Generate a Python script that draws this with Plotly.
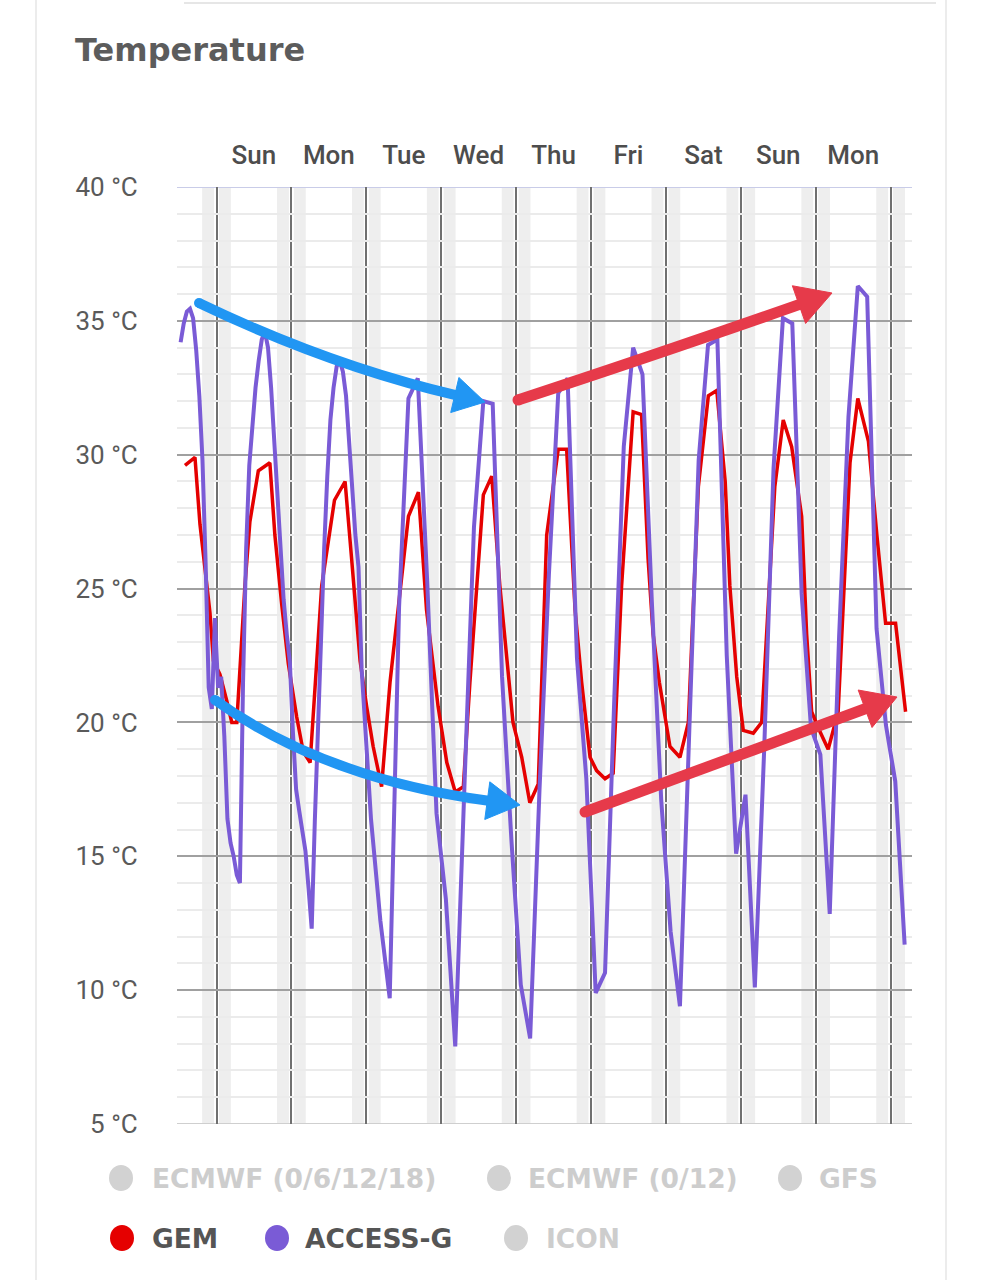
import math
import pandas as pd
import plotly.graph_objects as go

# ---------------- data ----------------
week_start = pd.Timestamp("2019-12-15 00:00")   # a Sunday (local time)
day_labels = ["Sun", "Mon", "Tue", "Wed", "Thu", "Fri", "Sat", "Sun", "Mon"]
n_day_lines = 10                                  # midnights Sun 00:00 ... Tue 00:00

y_ticks = [5, 10, 15, 20, 25, 30, 35, 40]
y_tick_labels = ["5 °C", "10 °C", "15 °C", "20 °C", "25 °C", "30 °C", "35 °C", "40 °C"]
x_range_hours = [-12.66, 222.86]                  # hours relative to Sunday 00:00
y_range = [5, 40]

# GEM (hours after Sunday 00:00, temperature degC)
gem_hours = [-10.1, -6.9, -5.3, -3.1, -2.1, -1.0, 1.1, 3.3, 4.9, 6.5,
             9.1, 10.7, 13.4, 17.1, 18.7, 20.9, 23.0, 25.7, 27.8, 30.0,
             31.6, 33.7, 37.8, 41.2, 43.3, 46.0, 48.1, 50.2, 52.9, 55.6,
             61.5, 64.7, 67.3, 71.0, 73.8, 76.5, 79.1, 81.2, 85.5, 88.2,
             90.8, 92.9, 95.0, 97.8, 100.4, 103.1, 105.8, 109.5, 112.2, 114.9,
             117.0, 119.7, 121.8, 124.5, 127.1, 129.8, 133.5, 136.2, 138.3, 139.9,
             141.9, 145.3, 148.5, 151.2, 154.4, 157.6, 160.3, 163.0, 164.5, 166.7,
             168.8, 172.0, 174.7, 178.9, 181.6, 184.3, 187.5, 189.1, 190.7, 192.8,
             196.0, 199.2, 201.4, 203.0, 205.5, 208.9, 211.6, 214.4, 217.6, 220.8]
gem_temp = [29.6, 29.9, 27.4, 25.1, 24.1, 22.3, 21.8, 20.8, 20.0, 20.0,
            25.1, 27.5, 29.4, 29.7, 27.0, 24.4, 22.2, 20.2, 18.9, 18.5,
            21.5, 25.1, 28.3, 29.0, 26.1, 22.3, 20.6, 19.1, 17.6, 21.5,
            27.7, 28.6, 24.2, 20.6, 18.5, 17.4, 17.6, 21.5, 28.5, 29.2,
            25.1, 22.4, 20.0, 18.7, 17.0, 17.7, 27.0, 30.2, 30.2, 24.2,
            21.5, 18.7, 18.2, 17.9, 18.1, 25.1, 31.6, 31.5, 26.1, 23.3,
            21.5, 19.1, 18.7, 20.0, 28.8, 32.2, 32.4, 29.0, 25.1, 21.7,
            19.7, 19.6, 20.0, 28.8, 31.3, 30.3, 27.7, 23.3, 20.4, 19.8,
            19.0, 20.4, 26.1, 29.7, 32.1, 30.5, 27.0, 23.7, 23.7, 20.4]

# ACCESS-G (hourly for the first two days, then 3-hourly)
access_hours = [-11.5, -10.5, -9.5, -8.5, -7.5, -6.5, -5.5, -4.5, -3.5, -2.5,
                -1.5, -0.5, 0.5, 1.5, 2.5, 3.5, 4.5, 5.5, 6.5, 7.5,
                8.5, 9.5, 10.5, 11.5, 12.5, 13.5, 14.5, 15.5, 16.5, 17.5,
                18.5, 19.5, 20.5, 21.5, 22.5, 23.5, 24.5, 25.5, 26.5, 27.5,
                28.5, 29.5, 30.5, 31.5, 32.5, 33.5, 34.5, 35.5, 36.5, 37.5,
                38.5, 39.5, 40.5, 41.5, 42.5, 43.5, 44.5, 45.5, 46.5,
                49.5, 52.5, 55.5, 58.5, 61.5, 64.5, 67.5, 70.5, 73.5, 76.5,
                79.5, 82.5, 85.5, 88.5, 91.5, 94.5, 97.5, 100.5, 103.5, 106.5,
                109.5, 112.5, 115.5, 118.5, 121.5, 124.5, 127.5, 130.5, 133.5, 136.5,
                139.5, 142.5, 145.5, 148.5, 151.5, 154.5, 157.5, 160.5, 163.5, 166.5,
                169.5, 172.5, 175.5, 178.5, 181.5, 184.5, 187.5, 190.5, 193.5, 196.5,
                199.5, 202.5, 205.5, 208.5, 211.5, 214.5, 217.5, 220.5]
access_temp = [34.2, 34.9, 35.35, 35.45, 35.1, 33.9, 32.2, 29.8, 26.0, 21.3,
               20.5, 23.9, 21.3, 21.7, 19.5, 16.4, 15.5, 15.0, 14.3, 14.0,
               21.5, 26.5, 29.6, 31.2, 32.5, 33.5, 34.3, 34.6, 34.0, 32.5,
               30.6, 28.5, 26.4, 24.6, 23.3, 22.25, 19.6, 17.5, 16.7, 15.9,
               15.2, 13.8, 12.3, 16.3, 20.1, 23.5, 26.5, 29.2, 31.3, 32.5,
               33.3, 33.5, 33.1, 32.2, 30.3, 28.3, 27.0, 25.8, 22.0,
               16.4, 12.6, 9.7, 24.3, 32.1, 32.85, 25.3, 16.6, 13.4, 7.9,
               17.8, 27.3, 32.0, 31.9, 21.7, 15.6, 10.2, 8.2, 17.5, 25.5,
               32.3, 32.85, 22.4, 17.9, 9.9, 10.65, 21.0, 30.3, 34.0, 33.0,
               24.5, 17.1, 12.2, 9.4, 19.7, 29.8, 34.1, 34.3, 22.5, 15.1,
               17.3, 10.1, 19.0, 29.5, 35.1, 34.9, 24.8, 19.8, 18.8, 12.85,
               23.2, 31.4, 36.3, 35.9, 23.5, 19.9, 17.8, 11.7]

legend_names = ["ECMWF (0/6/12/18)", "ECMWF (0/12)", "GFS", "GEM", "ACCESS-G", "ICON"]
legend_active = [False, False, False, True, True, False]

# ---------------- style / layout ----------------
FIG_W, FIG_H = 986, 1280
ML, MR, MT, MB = 177, 74, 187, 156
PW = FIG_W - ML - MR
PH = FIG_H - MT - MB

GEM_COLOR = "#e50000"
ACCESS_COLOR = "#7a5bd6"
INACTIVE = "#d2d2d2"
legend_colors = [INACTIVE, INACTIVE, INACTIVE, GEM_COLOR, ACCESS_COLOR, INACTIVE]
legend_circle_px = [(121, 1178), (499, 1178), (790, 1178), (122, 1238), (277, 1238), (516, 1238)]
legend_text_px = [150, 526, 817, 150, 303, 544]


def t(h):
    return week_start + pd.Timedelta(hours=h)


def pxx(px):
    return (px - ML) / PW


def pxy(py):
    return (FIG_H - MB - py) / PH


fig = go.Figure()
fig.add_trace(go.Scatter(x=[t(h) for h in gem_hours], y=gem_temp, mode="lines", name="GEM",
                         line=dict(color=GEM_COLOR, width=3.5), showlegend=False))
fig.add_trace(go.Scatter(x=[t(h) for h in access_hours], y=access_temp, mode="lines", name="ACCESS-G",
                         line=dict(color=ACCESS_COLOR, width=4), showlegend=False))

midnights = [t(24 * i) for i in range(n_day_lines)]
noons = [t(24 * i + 12) for i in range(len(day_labels))]

shapes = []
# night shading bands around each midnight
for i in range(n_day_lines):
    shapes.append(dict(type="rect", xref="x", yref="paper", x0=t(24 * i - 4.6), x1=t(24 * i + 4.6),
                       y0=0, y1=1, fillcolor="#eeeeee", line=dict(width=0), layer="below"))
    shapes.append(dict(type="rect", xref="x", yref="paper", x0=t(24 * i - 0.8), x1=t(24 * i + 0.8),
                       y0=0, y1=1, fillcolor="#ffffff", line=dict(width=0), layer="below"))
# top and bottom frame lines
shapes.append(dict(type="line", xref="paper", yref="y", x0=0, x1=1, y0=y_range[1], y1=y_range[1],
                   line=dict(color="#c9cce8", width=2), layer="between"))
shapes.append(dict(type="line", xref="paper", yref="y", x0=0, x1=1, y0=y_range[0], y1=y_range[0],
                   line=dict(color="#cfcfcf", width=2), layer="between"))
# card edges
for xpx in (36, 946):
    shapes.append(dict(type="line", xref="paper", yref="paper", x0=pxx(xpx), x1=pxx(xpx),
                       y0=pxy(0), y1=pxy(FIG_H), line=dict(color="#e6e6e6", width=1.5)))
shapes.append(dict(type="line", xref="paper", yref="paper", x0=pxx(184), x1=pxx(936),
                   y0=pxy(3), y1=pxy(3), line=dict(color="#dedede", width=1.5)))


# hand-drawn trend arrows (pixel geometry converted to paper coordinates)
def arrow(start, ctrl, tip, color, width=10, head_len=33, head_half=19):
    dx, dy = tip[0] - ctrl[0], tip[1] - ctrl[1]
    n = math.hypot(dx, dy)
    ux, uy = dx / n, dy / n
    bx, by = tip[0] - head_len * ux, tip[1] - head_len * uy
    ex, ey = bx + 3 * ux, by + 3 * uy
    out = []
    path = "M {},{} Q {},{} {},{}".format(pxx(start[0]), pxy(start[1]), pxx(ctrl[0]), pxy(ctrl[1]),
                                         pxx(ex), pxy(ey))
    out.append(dict(type="path", xref="paper", yref="paper", path=path,
                    line=dict(color=color, width=width), layer="above"))
    c1 = (bx - head_half * uy, by + head_half * ux)
    c2 = (bx + head_half * uy, by - head_half * ux)
    head = "M {},{} L {},{} L {},{} Z".format(pxx(tip[0]), pxy(tip[1]), pxx(c1[0]), pxy(c1[1]),
                                             pxx(c2[0]), pxy(c2[1]))
    out.append(dict(type="path", xref="paper", yref="paper", path=head, fillcolor=color,
                    line=dict(color=color, width=1), layer="above"))
    out.append(dict(type="circle", xref="paper", yref="paper", xsizemode="pixel", ysizemode="pixel",
                    xanchor=pxx(start[0]), yanchor=pxy(start[1]), x0=-width / 2, x1=width / 2,
                    y0=-width / 2, y1=width / 2, fillcolor=color, line=dict(width=0), layer="above"))
    return out


BLUE = "#2196f3"
RED = "#e63a4a"
shapes += arrow((199, 303), (330, 366), (485, 402), BLUE, head_len=31, head_half=18)
shapes += arrow((215, 700), (325, 779), (520, 805), BLUE, head_len=33, head_half=19)
shapes += arrow((518, 400), (670, 350), (832, 293), RED, width=11, head_len=35, head_half=20)
shapes += arrow((585, 812), (740, 755), (897, 697), RED, width=11, head_len=34, head_half=20)

# custom legend (circles + labels)
annotations = []
for name, active, col, (cx, cy), tx in zip(legend_names, legend_active, legend_colors,
                                           legend_circle_px, legend_text_px):
    shapes.append(dict(type="circle", xref="paper", yref="paper", xsizemode="pixel", ysizemode="pixel",
                       xanchor=pxx(cx), yanchor=pxy(cy), x0=-12, x1=12, y0=-13, y1=13,
                       fillcolor=col, line=dict(width=0)))
    annotations.append(dict(xref="paper", yref="paper", x=pxx(tx), y=pxy(cy), text=name,
                            showarrow=False, xanchor="left", yanchor="middle",
                            font=dict(family="DejaVu Sans", size=26.5, weight="bold",
                                      color="#555555" if active else "#cdcdcd")))

fig.update_layout(
    width=FIG_W, height=FIG_H,
    margin=dict(l=ML, r=MR, t=MT, b=MB, pad=0),
    paper_bgcolor="white", plot_bgcolor="white",
    showlegend=False,
    title=dict(text="Temperature", x=75 / FIG_W, xref="container", xanchor="left",
               y=1 - 50 / FIG_H, yref="container", yanchor="middle",
               font=dict(family="DejaVu Sans", size=32, weight="bold", color="#5c5c5c")),
    xaxis=dict(type="date", range=[t(x_range_hours[0]), t(x_range_hours[1])], side="top",
               tickmode="array", tickvals=noons, ticktext=day_labels,
               showgrid=False, zeroline=False, showline=False,
               ticks="outside", ticklen=12, tickcolor="rgba(0,0,0,0)",
               tickfont=dict(family="Roboto", size=26, weight=500, color="#4d4d4d"),
               minor=dict(tickmode="array", tickvals=midnights, showgrid=True,
                          gridcolor="#707070", gridwidth=2, ticks="")),
    yaxis=dict(range=y_range, tickmode="array", tickvals=y_ticks, ticktext=y_tick_labels,
               showgrid=True, gridcolor="#a0a0a0", gridwidth=2, zeroline=False, showline=False,
               ticks="outside", ticklen=33, tickcolor="rgba(0,0,0,0)",
               tickfont=dict(family="Roboto", size=26, color="#5a5a5a"),
               minor=dict(tickmode="linear", tick0=5, dtick=1, showgrid=True,
                          gridcolor="#ebebeb", gridwidth=1.5, ticks="")),
    shapes=shapes,
    annotations=annotations,
)

fig.write_html("out.html")
